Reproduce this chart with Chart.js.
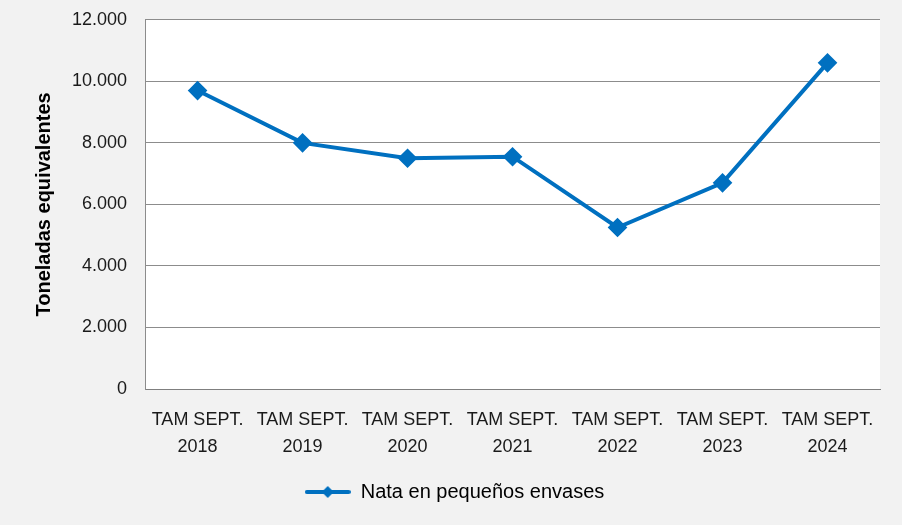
<!DOCTYPE html>
<html>
<head>
<meta charset="utf-8">
<script src="https://cdn.jsdelivr.net/npm/chart.js@4.4.1/dist/chart.umd.min.js"></script>
<style>
  html, body { margin: 0; padding: 0; background: #f2f2f2; }
  #wrap { width: 902px; height: 525px; position: relative; }
</style>
</head>
<body>
<div id="wrap"><canvas id="grafico" width="902" height="525"></canvas></div>
<script>
// datos
const categorias = [['TAM SEPT.', '2018'], ['TAM SEPT.', '2019'], ['TAM SEPT.', '2020'], ['TAM SEPT.', '2021'], ['TAM SEPT.', '2022'], ['TAM SEPT.', '2023'], ['TAM SEPT.', '2024']];
const valoresNata = [9700, 8000, 7500, 7550, 5250, 6700, 10600];
const nombreSerie = 'Nata en pequeños envases';
const tituloEjeY = 'Toneladas equivalentes';
const ticksY = [0, 2000, 4000, 6000, 8000, 10000, 12000];

const azul = '#0070c0';
const fuente = "'Liberation Sans', Arial, sans-serif";

// marcador de leyenda: línea con rombo
function iconoLeyenda() {
    const c = document.createElement('canvas');
    c.width = 46; c.height = 14;
    const ctx = c.getContext('2d');
    ctx.strokeStyle = azul; ctx.lineWidth = 4; ctx.lineCap = 'round';
    ctx.beginPath(); ctx.moveTo(2, 7); ctx.lineTo(44, 7); ctx.stroke();
    ctx.fillStyle = azul;
    ctx.beginPath(); ctx.moveTo(23, 1); ctx.lineTo(29, 7); ctx.lineTo(23, 13); ctx.lineTo(17, 7); ctx.closePath(); ctx.fill();
    return c;
}

const fondoPlot = {
    id: 'fondoPlot',
    beforeDraw(chart) {
        const { ctx, chartArea: a } = chart;
        ctx.save();
        ctx.fillStyle = '#ffffff';
        ctx.fillRect(a.left, a.top, a.right - a.left, a.bottom - a.top);
        ctx.restore();
    }
};

const formato = v => String(v).replace(/\B(?=(\d{3})+(?!\d))/g, '.');

new Chart(document.getElementById('grafico'), {
    type: 'line',
    data: {
        labels: categorias,
        datasets: [{
            label: nombreSerie,
            data: valoresNata,
            borderColor: azul,
            backgroundColor: azul,
            borderWidth: 4,
            pointStyle: 'rectRot',
            pointRadius: 7,
            pointHoverRadius: 7,
            tension: 0
        }]
    },
    options: {
        responsive: false,
        animation: false,
        layout: { padding: { top: 0, right: 22, left: 29, bottom: 13 } },
        plugins: {
            legend: {
                position: 'bottom',
                labels: {
                    usePointStyle: true,
                    pointStyleWidth: 46,
                    color: '#1a1a1a',
                    font: { family: fuente, size: 20 },
                    padding: 11,
                    generateLabels: chart => [{
                        text: nombreSerie,
                        pointStyle: iconoLeyenda(),
                        fillStyle: azul,
                        strokeStyle: azul,
                        lineWidth: 0,
                        datasetIndex: 0
                    }]
                }
            },
            tooltip: { enabled: false }
        },
        scales: {
            x: {
                offset: true,
                grid: { display: false },
                border: { display: true, color: '#7f7f7f', width: 1 },
                ticks: { color: '#1a1a1a', font: { family: fuente, size: 18, lineHeight: 1.5 }, maxRotation: 0, padding: 10 }
            },
            y: {
                min: 0,
                max: 12000,
                afterBuildTicks: axis => { axis.ticks = ticksY.map(v => ({ value: v })); },
                // marcas invisibles para separar las etiquetas del eje
                grid: { color: '#8c8c8c', lineWidth: 1, drawTicks: true, tickLength: 9, tickColor: 'rgba(0,0,0,0)' },
                border: { display: true, color: '#8c8c8c', width: 1 },
                ticks: { color: '#1a1a1a', font: { family: fuente, size: 18 }, padding: 9, callback: v => formato(v) },
                title: {
                    display: true,
                    text: tituloEjeY,
                    color: '#000000',
                    font: { family: fuente, size: 20, weight: 'bold' },
                    padding: { top: 3, bottom: 7 }
                }
            }
        }
    },
    plugins: [fondoPlot]
});
</script>
</body>
</html>
